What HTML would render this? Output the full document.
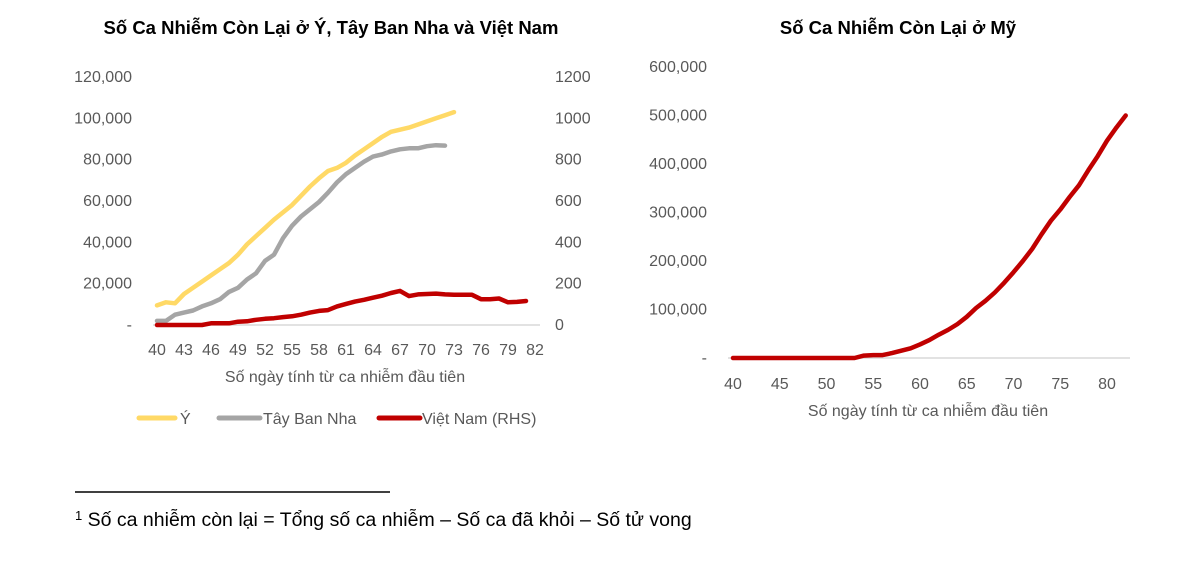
<!DOCTYPE html>
<html><head><meta charset="utf-8">
<style>
body{margin:0;background:#fff;width:1200px;height:574px;overflow:hidden;font-family:"Liberation Sans",sans-serif;}
svg text{font-family:"Liberation Sans",sans-serif;}
</style></head>
<body>
<svg id="c" width="1200" height="574">
<text x="331" y="34" text-anchor="middle" font-size="18.5" font-weight="bold" fill="#000">Số Ca Nhiễm Còn Lại ở Ý, Tây Ban Nha và Việt Nam</text>
<text x="898" y="34" text-anchor="middle" font-size="18.5" font-weight="bold" fill="#000">Số Ca Nhiễm Còn Lại ở Mỹ</text>
<g id="left"></g>
<g id="right"></g>
<g>
<g><line x1="139" y1="418" x2="175" y2="418" stroke="#FFD966" stroke-width="5" stroke-linecap="round"/><text x="180" y="424" font-size="16" fill="#595959">Ý</text></g>
<g><line x1="219" y1="418" x2="260" y2="418" stroke="#A5A5A5" stroke-width="5" stroke-linecap="round"/><text x="263" y="424" font-size="16" fill="#595959">Tây Ban Nha</text></g>
<g><line x1="379" y1="418" x2="420" y2="418" stroke="#C00000" stroke-width="5" stroke-linecap="round"/><text x="422" y="424" font-size="16" fill="#595959">Việt Nam (RHS)</text></g>
</g>
<line x1="75" y1="492" x2="390" y2="492" stroke="#000" stroke-width="1.5"/>
<text x="75" y="526" font-size="19.5" fill="#000"><tspan font-size="13" dy="-6">1</tspan><tspan dy="6"> Số ca nhiễm còn lại = Tổng số ca nhiễm – Số ca đã khỏi – Số tử vong</tspan></text>
</svg>
<script>
const italy=[9500,11000,10500,15000,18000,21000,24000,27000,30000,34000,39000,43000,47000,51000,54500,58000,62500,67000,71000,74500,76000,78500,82000,85000,88000,91000,93500,94500,95500,97000,98500,100000,101500,103000];
const spain=[2000,2000,5000,6000,7000,9000,10500,12500,16000,18000,22000,25000,31000,34000,42000,48000,52500,56000,59500,64000,69000,73000,76000,79000,81500,82500,84000,85000,85500,85500,86500,87000,86800];
const vietnam=[0,0,0,0,0,0,8,8,8,16,18,25,30,33,38,42,50,60,68,72,90,102,113,122,132,142,155,165,140,148,150,152,148,146,146,146,125,125,128,110,112,116];
const usa=[0,0,0,0,0,0,0,0,0,0,0,0,0,0,5000,6000,6000,10000,15000,20000,28000,37000,48000,58000,70000,85000,103000,118000,135000,155000,177000,200000,225000,255000,283000,306000,332000,356000,387000,416000,448000,475000,500000];
const leftTicks=["-","20,000","40,000","60,000","80,000","100,000","120,000"];
const rightTicks=["0","200","400","600","800","1000","1200"];
const usTicks=["-","100,000","200,000","300,000","400,000","500,000","600,000"];
const leftXLabels=[40,43,46,49,52,55,58,61,64,67,70,73,76,79,82];
const usXLabels=[40,45,50,55,60,65,70,75,80];
const NS="http://www.w3.org/2000/svg";
function mk(p,t,a){const e=document.createElementNS(NS,t);for(const k in a)e.setAttribute(k,a[k]);p.appendChild(e);return e;}
const L=document.getElementById('left');
const lx=d=>157+(d-40)*9, ly=v=>325-v/120000*248, ry=v=>325-v/1200*248;
let ax=mk(L,'line',{x1:153,y1:325,x2:540,y2:325,stroke:'#D9D9D9','stroke-width':1.5});


leftTicks.forEach((t,i)=>{const e=mk(L,'text',{x:132,y:ly(i*20000)+5,'text-anchor':'end','font-size':16,fill:'#595959'});e.textContent=t;

});
rightTicks.forEach((t,i)=>{const e=mk(L,'text',{x:555,y:ry(i*200)+5,'font-size':16,fill:'#595959'});e.textContent=t;

});
leftXLabels.forEach(d=>{const e=mk(L,'text',{x:lx(d),y:355,'text-anchor':'middle','font-size':16,fill:'#595959'});e.textContent=d;

});
let xt=mk(L,'text',{x:345,y:382,'text-anchor':'middle','font-size':16,fill:'#595959'});xt.textContent='Số ngày tính từ ca nhiễm đầu tiên';


function line(p,arr,fx,fy,col,name){const pts=arr.map((v,i)=>fx(40+i)+','+fy(v).toFixed(1)).join(' ');
const e=mk(p,'polyline',{points:pts,fill:'none',stroke:col,'stroke-width':4.5,'stroke-linejoin':'round','stroke-linecap':'round'});

}
line(L,italy,lx,ly,'#FFD966','italy-line');
line(L,spain,lx,ly,'#A5A5A5','spain-line');
line(L,vietnam,lx,ry,'#C00000','vietnam-line');
const R=document.getElementById('right');
const ux=d=>733+(d-40)*9.35, uy=v=>358-v/600000*291;
let ax2=mk(R,'line',{x1:728,y1:358,x2:1130,y2:358,stroke:'#D9D9D9','stroke-width':1.5});


usTicks.forEach((t,i)=>{const e=mk(R,'text',{x:707,y:uy(i*100000)+5,'text-anchor':'end','font-size':16,fill:'#595959'});e.textContent=t;

});
usXLabels.forEach(d=>{const e=mk(R,'text',{x:ux(d),y:389,'text-anchor':'middle','font-size':16,fill:'#595959'});e.textContent=d;

});
let xt2=mk(R,'text',{x:928,y:416,'text-anchor':'middle','font-size':16,fill:'#595959'});xt2.textContent='Số ngày tính từ ca nhiễm đầu tiên';


line(R,usa,ux,uy,'#C00000','us-line');
</script>
</body></html>
